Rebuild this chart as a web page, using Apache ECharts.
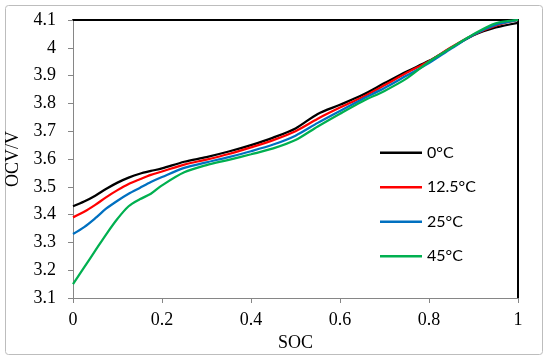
<!DOCTYPE html>
<html>
<head>
<meta charset="utf-8">
<script src="https://cdn.jsdelivr.net/npm/echarts@6/dist/echarts.min.js"></script>
<style>html,body{margin:0;padding:0;background:#fff;}#c{width:550px;height:360px;}</style>
</head>
<body>
<div id="c"></div>
<script>
var soc = [0, 0.025, 0.05, 0.075, 0.1, 0.125, 0.15, 0.175, 0.2, 0.25, 0.3, 0.35, 0.4, 0.45, 0.5, 0.55, 0.6, 0.65, 0.7, 0.75, 0.8, 0.85, 0.9, 0.95, 1];
var ocv0 = [3.43, 3.447, 3.468, 3.493, 3.515, 3.533, 3.547, 3.557, 3.566, 3.59, 3.607, 3.627, 3.65, 3.677, 3.71, 3.762, 3.795, 3.83, 3.873, 3.915, 3.953, 4.0, 4.045, 4.073, 4.09];
var ocv12 = [3.39, 3.41, 3.435, 3.463, 3.488, 3.51, 3.527, 3.543, 3.555, 3.58, 3.598, 3.618, 3.642, 3.668, 3.70, 3.745, 3.785, 3.822, 3.865, 3.91, 3.952, 4.002, 4.047, 4.08, 4.1];
var ocv25 = [3.33, 3.355, 3.387, 3.422, 3.45, 3.475, 3.496, 3.517, 3.535, 3.568, 3.588, 3.607, 3.628, 3.652, 3.684, 3.73, 3.773, 3.815, 3.855, 3.9, 3.945, 3.997, 4.047, 4.082, 4.1];
var ocv45 = [3.15, 3.21, 3.27, 3.33, 3.385, 3.43, 3.455, 3.475, 3.505, 3.552, 3.578, 3.597, 3.617, 3.638, 3.668, 3.717, 3.763, 3.807, 3.845, 3.89, 3.95, 4.0, 4.049, 4.088, 4.1];
var names = ['0\u00b0C', '12.5\u00b0C', '25\u00b0C', '45\u00b0C'];
var colors = ['#000000', '#ff0000', '#0070c0', '#00b050'];
var xTitle = 'SOC';
var yTitle = 'OCV/V';

function pairs(ys) { return soc.map(function (s, i) { return [s, ys[i]]; }); }
var allY = [ocv0, ocv12, ocv25, ocv45];

var serif = 'Liberation Serif';
var axisGray = '#868686';

var chart = echarts.init(document.getElementById('c'), null, {renderer: 'canvas'});
chart.setOption({
  backgroundColor: '#ffffff',
  animation: false,
  graphic: [{
    type: 'rect',
    shape: {x: 5.5, y: 5.5, width: 537, height: 349, r: 3},
    style: {fill: 'none', stroke: '#bdbdbd', lineWidth: 1},
    z: -1
  }],
  grid: {left: 73, right: 32, top: 20, bottom: 62, containLabel: false, outerBoundsMode: 'none'},
  legend: {
    orient: 'vertical',
    left: 380,
    top: 144.5,
    padding: 0,
    itemWidth: 42,
    itemHeight: 2.5,
    itemGap: 18,
    icon: 'rect',
    data: names,
    textStyle: {fontFamily: 'Lato', fontSize: 16, lineHeight: 16.5, color: '#000'}
  },
  xAxis: [{
    type: 'value',
    min: 0, max: 1, interval: 0.2,
    name: xTitle,
    nameLocation: 'middle',
    nameGap: 31,
    nameTextStyle: {fontFamily: serif, fontSize: 18, color: '#000'},
    axisLine: {show: true, onZero: false, lineStyle: {color: axisGray, width: 1}},
    axisTick: {show: true, length: 5, lineStyle: {color: axisGray}},
    axisLabel: {fontFamily: serif, fontSize: 18, color: '#000', margin: 13},
    splitLine: {show: false}
  }, {
    type: 'value',
    position: 'top',
    min: 0, max: 1,
    axisLine: {show: true, onZero: false, lineStyle: {color: '#000', width: 2}},
    axisTick: {show: false},
    axisLabel: {show: false},
    splitLine: {show: false}
  }],
  yAxis: [{
    type: 'value',
    min: 3.1, max: 4.1, interval: 0.1,
    name: yTitle,
    nameLocation: 'middle',
    nameGap: 44,
    nameTextStyle: {fontFamily: serif, fontSize: 18, color: '#000'},
    axisLine: {show: true, onZero: false, lineStyle: {color: axisGray, width: 1}},
    axisTick: {show: true, length: 5, lineStyle: {color: axisGray}},
    axisLabel: {fontFamily: serif, fontSize: 18, color: '#000', margin: 17},
    splitLine: {show: false}
  }, {
    type: 'value',
    position: 'right',
    min: 3.1, max: 4.1,
    axisLine: {show: true, onZero: false, lineStyle: {color: '#000', width: 2}},
    axisTick: {show: false},
    axisLabel: {show: false},
    splitLine: {show: false}
  }],
  series: names.map(function (n, i) {
    return {
      name: n,
      type: 'line',
      xAxisIndex: 0,
      yAxisIndex: 0,
      data: pairs(allY[i]),
      smooth: 0.3,
      symbol: 'none',
      color: colors[i],
      lineStyle: {color: colors[i], width: 2.25}
    };
  })
});
</script>
</body>
</html>
